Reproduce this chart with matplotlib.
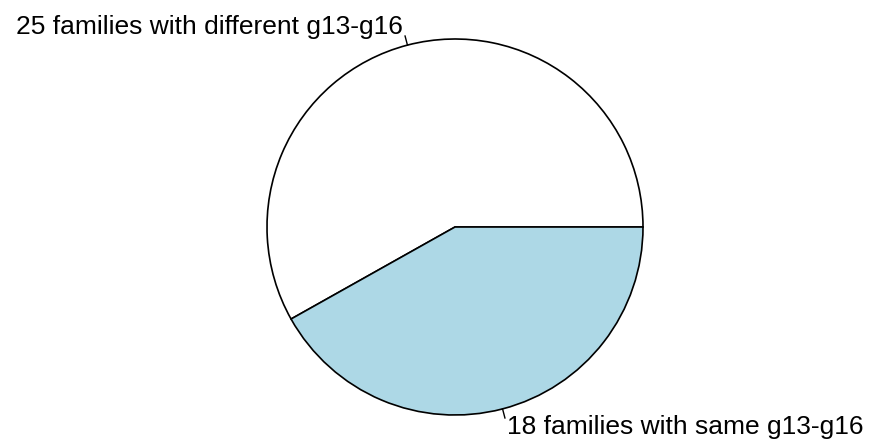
import numpy as np
import matplotlib.pyplot as plt

plt.rcParams['font.family'] = ['Liberation Sans', 'DejaVu Sans']

labels = ["25 families with different g13-g16", "18 families with same g13-g16"]
counts = [25, 18]
colors = ["white", "lightblue"]


def main():
    fig = plt.figure(figsize=(8.75, 4.43), dpi=100)
    ax = fig.add_axes([0, 0, 1, 1])

    cx, cy, r = 455, 216, 188
    wedges, texts = ax.pie(counts, colors=colors, startangle=0, counterclock=True,
                           center=(cx, cy), radius=r, labels=labels, labeldistance=1.1,
                           textprops={"fontsize": 19},
                           wedgeprops={"edgecolor": "black", "linewidth": 1.2})

    # small tick marks like R's pie(), and R-style label alignment
    frac = np.cumsum([0] + counts) / sum(counts)
    for i in range(len(counts)):
        a = 2 * np.pi * (frac[i] + frac[i + 1]) / 2
        ax.plot([cx + r * np.cos(a), cx + 1.05 * r * np.cos(a)],
                [cy + r * np.sin(a), cy + 1.05 * r * np.sin(a)],
                color="black", lw=1)
        texts[i].set_ha("left" if np.cos(a) > 0 else "right")
        texts[i].set_va("center")

    ax.set_xlim(0, 875)
    ax.set_ylim(0, 443)
    ax.set_aspect("equal")
    ax.axis("off")
    fig.savefig("out.png", dpi=100)


if __name__ == "__main__":
    main()
